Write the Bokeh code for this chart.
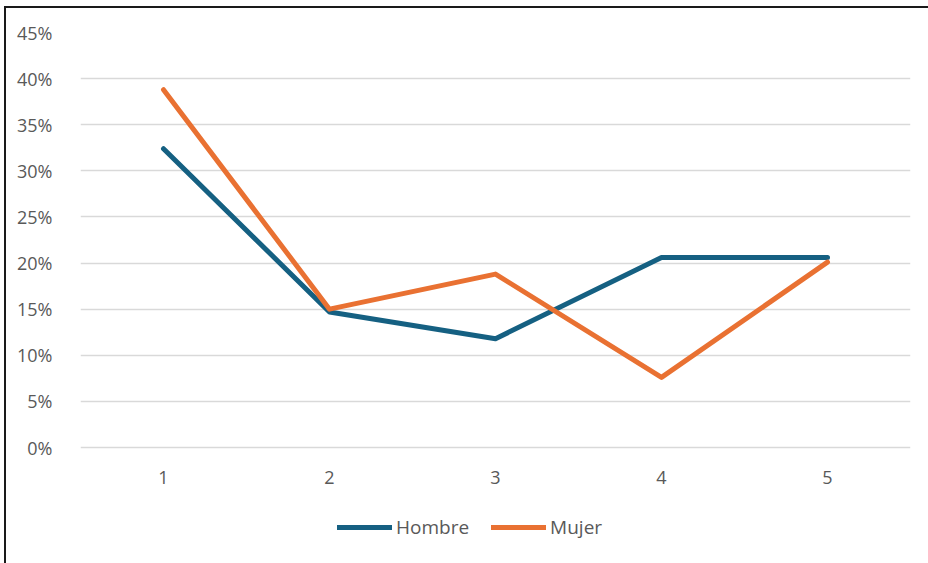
from bokeh.plotting import figure
from bokeh.models import Range1d, FactorRange, Legend, LegendItem, NumeralTickFormatter, FixedTicker
from bokeh.core.properties import value
from bokeh.embed import file_html
from bokeh.resources import INLINE

categories = ["1", "2", "3", "4", "5"]
hombre = [0.324, 0.147, 0.118, 0.206, 0.206]
mujer = [0.388, 0.150, 0.188, 0.076, 0.201]
y_ticks = [0, 0.05, 0.10, 0.15, 0.20, 0.25, 0.30, 0.35, 0.40, 0.45]
baseline = [0, 0, 0, 0, 0]

FONT = "Open Sans"
GRAY = "#595959"

p = figure(frame_width=830, frame_height=523,
           x_range=FactorRange(*categories, range_padding=0),
           y_range=Range1d(-0.1171, 0.45), output_backend="svg", toolbar_location=None,
           min_border_left=74, min_border_right=18, min_border_top=24, min_border_bottom=8)
p.x_range.factor_padding = 0
p.outline_line_color = None
p.border_fill_color = "white"
p.styles = {"border-top": "2px solid #1a1a1a", "border-left": "2px solid #1a1a1a",
            "margin-left": "4px", "margin-top": "6px"}

p.yaxis.ticker = FixedTicker(ticks=y_ticks)
p.yaxis.formatter = NumeralTickFormatter(format="0%")
p.yaxis.axis_line_color = None
p.yaxis.major_tick_line_color = None
p.yaxis.minor_tick_line_color = None
p.yaxis.major_label_standoff = 22
p.yaxis.major_label_text_color = GRAY
p.yaxis.major_label_text_font = FONT
p.yaxis.major_label_text_font_size = "18px"

p.xaxis.visible = False
p.xgrid.grid_line_color = None
p.ygrid.grid_line_color = "#d9d9d9"
p.ygrid.grid_line_width = 1.5

p.text(x=categories, y=baseline, text=categories, y_offset=30, text_align="center",
       text_baseline="middle", text_color=GRAY, text_font=value(FONT), text_font_size="18px")

r1 = p.line(categories, hombre, line_color="#156082", line_width=5, line_cap="round", line_join="round")
r2 = p.line(categories, mujer, line_color="#e97132", line_width=5, line_cap="round", line_join="round")

legend = Legend(items=[LegendItem(label="Hombre", renderers=[r1]), LegendItem(label="Mujer", renderers=[r2])],
                orientation="horizontal", location=(257, 15), border_line_color=None, background_fill_alpha=0,
                glyph_width=55, glyph_height=22, label_text_font=FONT, label_text_font_size="19px",
                label_text_color=GRAY, spacing=22, label_standoff=4, margin=0, padding=0)
p.add_layout(legend, "center")

open("out.html", "w").write(file_html(p, INLINE))
